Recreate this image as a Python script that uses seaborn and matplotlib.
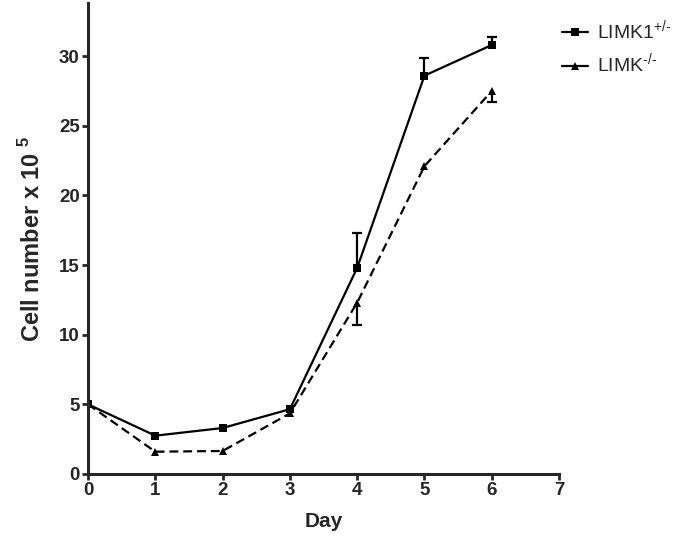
import numpy as np
import pandas as pd
import matplotlib
matplotlib.use("Agg")
import matplotlib.pyplot as plt
import seaborn as sns

days = [0, 1, 2, 3, 4, 5, 6]
het_mean = [5.0, 2.75, 3.3, 4.65, 14.8, 28.6, 30.8]
het_up = [0.0, 0.0, 0.0, 0.0, 2.5, 1.3, 0.6]
ko_mean = [5.0, 1.6, 1.65, 4.35, 12.3, 22.1, 27.5]
ko_down = [0.0, 0.0, 0.0, 0.0, 1.6, 0.0, 0.8]
labels = [r"LIMK1$^{\text{+/-}}$", r"LIMK$^{\text{-/-}}$"]

sns.set_style("ticks")
plt.rcParams['font.family'] = ['Liberation Sans', 'DejaVu Sans']
plt.rcParams['mathtext.fontset'] = 'custom'
plt.rcParams['mathtext.rm'] = 'Liberation Sans'
plt.rcParams['mathtext.bf'] = 'Liberation Sans:bold'

df = pd.DataFrame({
    'Day': days * 2,
    'Cells': het_mean + ko_mean,
    'Genotype': [labels[0]] * len(days) + [labels[1]] * len(days),
})

fig = plt.figure(figsize=(6.75, 5.38), dpi=100)
ax = fig.add_axes([0.1304, 0.119, 0.6978, 0.875])

sns.lineplot(data=df, x='Day', y='Cells', hue='Genotype', style='Genotype',
             palette=['black', 'black'], dashes=[(None, None), (4, 2.2)],
             markers=['s', '^'], markersize=6, markeredgewidth=0,
             linewidth=1.6, ax=ax)

# one-sided error bars, only where there is an error
d = np.array(days)
m = np.array(het_up) > 0
eb = ax.errorbar(d[m], np.array(het_mean)[m], yerr=[np.zeros(m.sum()), np.array(het_up)[m]],
                 fmt='none', ecolor='black', elinewidth=1.6, capsize=3.5, capthick=1.6)
eb[1][0].set_visible(False)
m = np.array(ko_down) > 0
eb = ax.errorbar(d[m], np.array(ko_mean)[m], yerr=[np.array(ko_down)[m], np.zeros(m.sum())],
                 fmt='none', ecolor='black', elinewidth=1.6, capsize=3.5, capthick=1.6)
eb[1][1].set_visible(False)

ax.set_xlim(0, 7)
ax.set_ylim(0, 33.8)
ax.set_xticks(range(0, 8))
ax.set_yticks(range(0, 31, 5))
for s in ['top', 'right']:
    ax.spines[s].set_visible(False)
for s in ['left', 'bottom']:
    ax.spines[s].set_linewidth(2.2)
ax.tick_params(width=2, length=4, labelsize=13.5, pad=2)
for t in ax.get_xticklabels() + ax.get_yticklabels():
    t.set_fontweight('bold')

ax.set_xlabel('Day', fontsize=15, fontweight='bold', labelpad=9)
ax.set_ylabel(r'Cell number x 10 $^{\mathbf{5}}$', fontsize=17, fontweight='bold', labelpad=10)

leg = ax.legend(loc='upper left', bbox_to_anchor=(0.97, 1.005), frameon=False,
                fontsize=14, handlelength=1.3, handletextpad=0.5, labelspacing=0.45)
for h in leg.legend_handles:
    h.set_linestyle('-')

fig.savefig('out.png', dpi=100)
